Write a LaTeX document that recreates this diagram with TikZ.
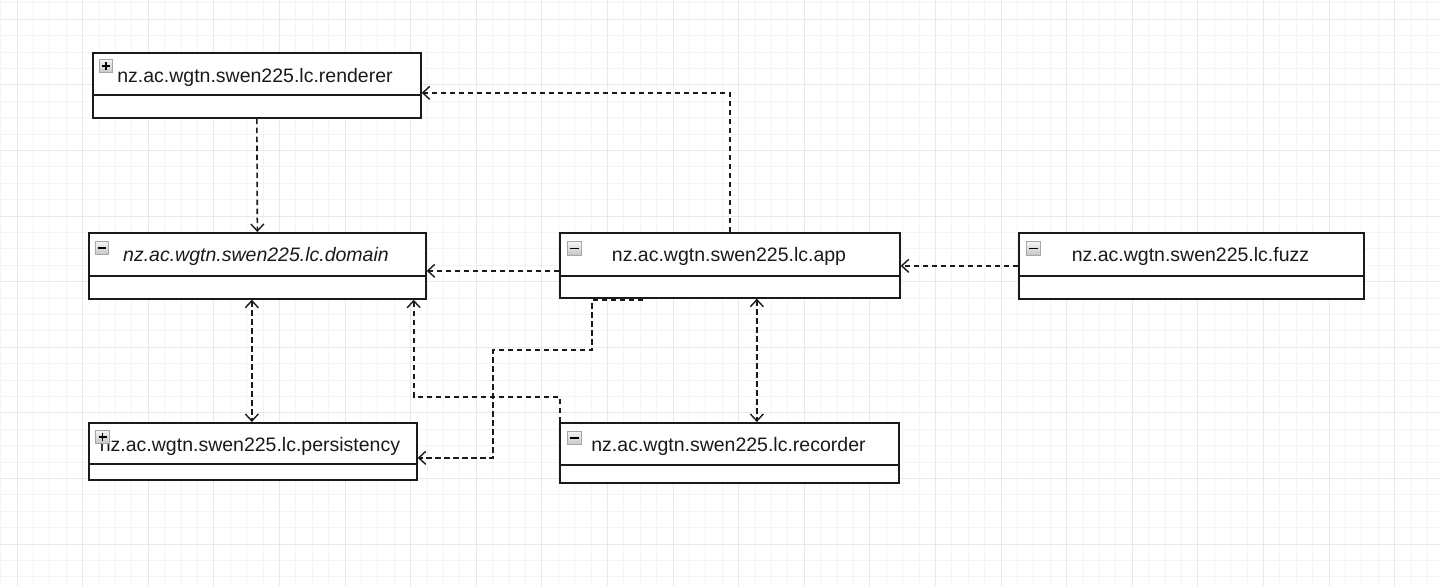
\documentclass[tikz,border=0pt]{standalone}
\usepackage{fontspec}
\setmainfont{Liberation Sans}
\usetikzlibrary{arrows.meta}
\definecolor{gridminor}{HTML}{F4F4F4}
\definecolor{gridmajor}{HTML}{E9E9E9}
\definecolor{ink}{HTML}{1A1A1A}
\begin{document}
\begin{tikzpicture}[x=1pt,y=-1pt,
  pkg/.style={draw=ink, line width=1.7pt, fill=white, anchor=north west, inner sep=0pt},
  pkgname/.style={anchor=base, font=\fontsize{19.5}{22}\selectfont, text=ink, inner sep=0pt},
  icon/.style={draw=gray!70, line width=0.9pt, top color=gray!8, bottom color=gray!45, minimum size=13.5pt, inner sep=0pt},
  sign/.style={line width=1.4pt, draw=black},
  barb/.tip={Straight Barb[length=7pt,width=13pt,line width=1.4pt]},
  dep/.style={draw=ink, line width=1.6pt, dash pattern=on 5.5pt off 3.5pt, -barb},
  dep2/.style={dep, barb-barb}
]
% canvas and grid
\useasboundingbox (0,0) rectangle (1440,586);
\fill[white] (0,0) rectangle (1440,586);
\foreach \i in {0,...,87} \draw[gridminor, line width=0.8pt] ({0.6+16.4*\i},0) -- ({0.6+16.4*\i},586);
\foreach \i in {0,...,35} \draw[gridminor, line width=0.8pt] (0,{2.8+16.4*\i}) -- (1440,{2.8+16.4*\i});
\foreach \i in {0,...,21} \draw[gridmajor, line width=0.9pt] ({17+65.6*\i},0) -- ({17+65.6*\i},586);
\foreach \i in {0,...,8} \draw[gridmajor, line width=0.9pt] (0,{19.2+65.6*\i}) -- (1440,{19.2+65.6*\i});

% packages
\node[pkg, minimum width=328pt, minimum height=65pt] (renderer) at (92,52) {};
\draw[ink, line width=1.7pt] (92,95) -- (420,95);
\node[pkgname] (renderer-name) at (255,82) {nz.ac.wgtn.swen225.lc.renderer};

\node[pkg, minimum width=337pt, minimum height=66pt] (domain) at (88,232) {};
\draw[ink, line width=1.7pt] (88,276) -- (425,276);
\node[pkgname, font=\fontsize{19.5}{22}\selectfont\itshape] (domain-name) at (256,261.5) {nz.ac.wgtn.swen225.lc.domain};

\node[pkg, minimum width=340pt, minimum height=65pt] (app) at (559,232) {};
\draw[ink, line width=1.7pt] (559,276) -- (899,276);
\node[pkgname] (app-name) at (729,261.5) {nz.ac.wgtn.swen225.lc.app};

\node[pkg, minimum width=345pt, minimum height=66pt] (fuzz) at (1018,232) {};
\draw[ink, line width=1.7pt] (1018,276) -- (1363,276);
\node[pkgname] (fuzz-name) at (1190.5,261.5) {nz.ac.wgtn.swen225.lc.fuzz};

\node[pkg, minimum width=328pt, minimum height=57pt] (persistency) at (88,422) {};
\draw[ink, line width=1.7pt] (88,464) -- (416,464);
\node[pkgname] (persistency-name) at (250,451) {nz.ac.wgtn.swen225.lc.persistency};

\node[pkg, minimum width=339pt, minimum height=60pt] (recorder) at (559,422) {};
\draw[ink, line width=1.7pt] (559,465) -- (898,465);
\node[pkgname] (recorder-name) at (728.5,451) {nz.ac.wgtn.swen225.lc.recorder};

% expand / collapse toggles
\foreach \n/\x/\y in {renderer-tog/106/66, persistency-tog/102.5/437}{
  \node[icon] (\n) at (\x,\y) {};
  \draw[sign] ([xshift=-4pt]\n.center) -- ([xshift=4pt]\n.center);
  \draw[sign] ([yshift=-4pt]\n.center) -- ([yshift=4pt]\n.center);
}
\foreach \n/\x/\y in {domain-tog/102/248, app-tog/574.5/248.5, fuzz-tog/1033.5/248.5, recorder-tog/574.5/438}{
  \node[icon] (\n) at (\x,\y) {};
  \draw[sign] ([xshift=-4.2pt]\n.center) -- ([xshift=4.2pt]\n.center);
}

% dependencies
\draw[dep] (app.north) |- ([yshift=-7.5pt]renderer.east);
\draw[dep] (renderer.south) -- (domain.north);
\draw[dep] ([yshift=-5.5pt]app.west) coordinate (appw) -- (appw -| domain.east);
\draw[dep] (fuzz.west) -- (fuzz.west -| app.east);
\draw[dep2] ([xshift=-5.5pt]domain.south) coordinate (dp) -- (dp |- persistency.north);
\draw[dep2] ([xshift=27pt]app.south) coordinate (ar) -- (ar |- recorder.north);
\draw[dep] ([xshift=1pt]recorder.north west) -- ++(0,-25) -| ([xshift=-13pt]domain.south east);
\draw[dep] ([xshift=84pt,yshift=-1.5pt]app.south west) -- ([xshift=33pt,yshift=-1.5pt]app.south west) -- ++(0,50) -- ++(-99,0) |- ([yshift=-6.5pt]persistency.east);
\end{tikzpicture}
\end{document}
